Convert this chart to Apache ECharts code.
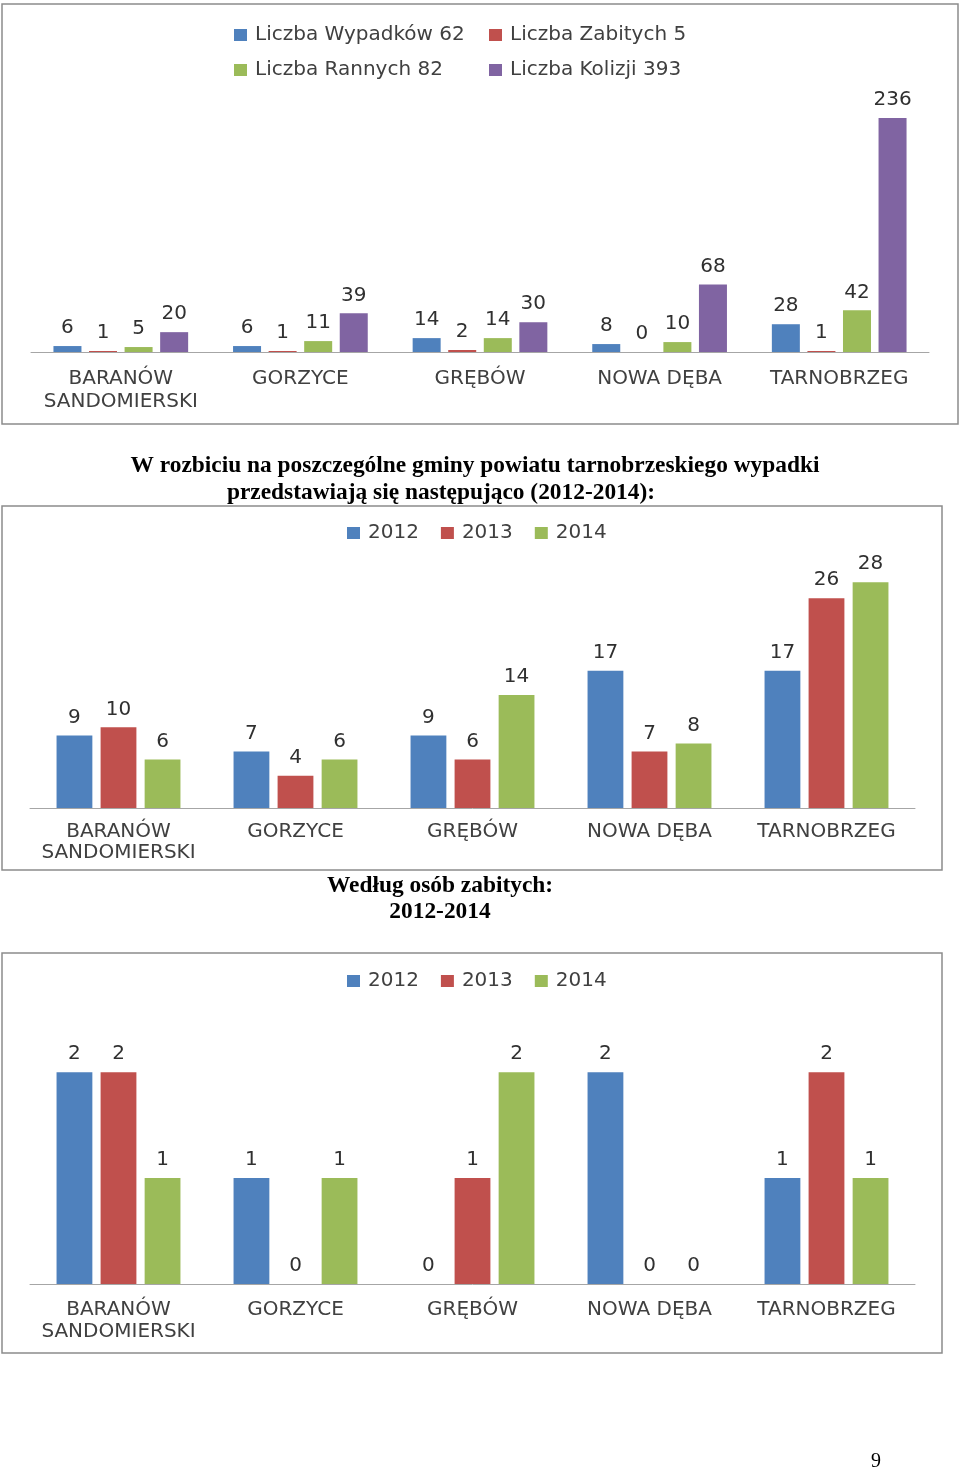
<!DOCTYPE html>
<html>
<head>
<meta charset="utf-8">
<script src="https://cdn.jsdelivr.net/npm/echarts@6/dist/echarts.min.js"></script>
<style>
html,body{margin:0;padding:0;background:#fff;}
#main{width:960px;height:1472px;}
</style>
</head>
<body>
<div id="main"></div>
<script>
// ---- data ----
const categories = ['BARANÓW\nSANDOMIERSKI', 'GORZYCE', 'GRĘBÓW', 'NOWA DĘBA', 'TARNOBRZEG'];
const names1 = ['Liczba Wypadków 62', 'Liczba Zabitych 5', 'Liczba Rannych 82', 'Liczba Kolizji 393'];
const wypadki = [6, 6, 14, 8, 28];
const zabici = [1, 1, 2, 0, 1];
const ranni = [5, 11, 14, 10, 42];
const kolizje = [20, 39, 30, 68, 236];
const years = ['2012', '2013', '2014'];
const wyp2012 = [9, 7, 9, 17, 17];
const wyp2013 = [10, 4, 6, 7, 26];
const wyp2014 = [6, 6, 14, 8, 28];
const zab2012 = [2, 1, 0, 2, 1];
const zab2013 = [2, 0, 1, 0, 2];
const zab2014 = [1, 1, 2, 0, 1];
const heading1 = 'W rozbiciu na poszczególne gminy powiatu tarnobrzeskiego wypadki';
const heading2 = 'przedstawiają się następująco (2012-2014):';
const heading3 = 'Według osób zabitych:';
const heading4 = '2012-2014';
const pageNo = '9';

// ---- styling ----
const colors4 = ['#4F81BD', '#C0504D', '#9BBB59', '#8064A2'];
const colors3 = ['#4F81BD', '#C0504D', '#9BBB59'];
const FONT = 'DejaVu Sans';
const txtCol = '#404040';
const FS = 20;

const chart = echarts.init(document.getElementById('main'), null, {renderer: 'canvas'});

function xAxisDef(gridIndex, margin, lh) {
  return {
    type: 'category', gridIndex, data: categories,
    axisTick: {show: false},
    axisLine: {lineStyle: {color: '#A6A6A6', width: 1}},
    axisLabel: {color: txtCol, fontFamily: FONT, fontSize: FS, margin, lineHeight: lh, interval: 0}
  };
}
function yAxisDef(gridIndex, max) {
  return {type: 'value', gridIndex, min: 0, max, show: false, splitLine: {show: false}};
}
function barSeries(name, data, idx, color, gap, catGap, dist) {
  return {
    type: 'bar', name, data, xAxisIndex: idx, yAxisIndex: idx,
    itemStyle: {color},
    barGap: gap, barCategoryGap: catGap,
    label: {show: true, position: 'top', distance: dist, color: '#303030', fontFamily: FONT, fontSize: FS},
    emphasis: {disabled: true}
  };
}
function legendDef(data, left, top, itemGap) {
  return {
    data, left, top, itemWidth: 13, itemHeight: 12, itemGap: itemGap || 10,
    icon: 'rect', selectedMode: false,
    textStyle: {color: txtCol, fontFamily: FONT, fontSize: FS, padding: [0, 0, 0, 3]}
  };
}

const series = [];
[wypadki, zabici, ranni, kolizje].forEach((d, i) => series.push(barSeries(names1[i], d, 0, colors4[i], '27%', '25%', 8)));
[wyp2012, wyp2013, wyp2014].forEach((d, i) => series.push(barSeries(years[i], d, 1, colors3[i], '23%', '30%', 8)));
[zab2012, zab2013, zab2014].forEach((d, i) => series.push(barSeries(years[i], d, 2, colors3[i], '23%', '30%', 8)));

function border(x, y, w, h) {
  return {type: 'rect', shape: {x, y, width: w, height: h}, style: {fill: 'none', stroke: '#8C8C8C', lineWidth: 1.5}, silent: true};
}
function heading(text, x, y, font) {
  return {type: 'text', x, y, style: {text, font, fill: '#000', textAlign: 'center', textVerticalAlign: 'middle'}, silent: true};
}

chart.setOption({
  animation: false,
  grid: [
    {left: 31, right: 31, top: 104, height: 248},
    {left: 30, right: 45, top: 566, height: 242},
    {left: 30, right: 45, top: 1051, height: 233}
  ],
  xAxis: [xAxisDef(0, 15, 23), xAxisDef(1, 13, 21), xAxisDef(2, 15, 22)],
  yAxis: [yAxisDef(0, 250), yAxisDef(1, 30), yAxisDef(2, 2.2)],
  legend: [
    legendDef([names1[0]], 229, 20),
    legendDef([names1[1]], 484, 20),
    legendDef([names1[2]], 229, 55),
    legendDef([names1[3]], 484, 55),
    legendDef(years, 342, 518, 22),
    legendDef(years, 342, 966, 22)
  ],
  graphic: [
    border(2, 4, 956, 420),
    border(2, 506, 940, 364),
    border(2, 953, 940, 400),
    heading(heading1, 475, 466, 'bold 23.4px "Liberation Serif"'),
    heading(heading2, 441, 493, 'bold 23.4px "Liberation Serif"'),
    heading(heading3, 440, 886, 'bold 23.4px "Liberation Serif"'),
    heading(heading4, 440, 912, 'bold 23.4px "Liberation Serif"'),
    heading(pageNo, 876, 1462, '20px "Liberation Serif"')
  ],
  series
});
</script>
</body>
</html>
